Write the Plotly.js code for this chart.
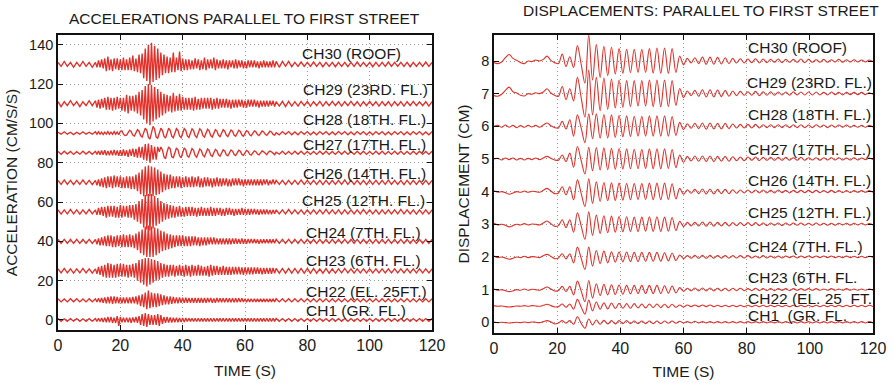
<!DOCTYPE html>
<html>
<head>
<meta charset="utf-8">
<script src="https://cdn.plot.ly/plotly-3.0.1.min.js"></script>
<style>html,body{margin:0;padding:0;background:#fff;}#chart{width:894px;height:383px;}</style>
</head>
<body>
<div id="chart"></div>
<script>
// ---------- DATA ----------
// Acceleration channels (left panel), offsets in cm/s/s
const accNames = ['CH30 (ROOF)','CH29 (23RD. FL.)','CH28 (18TH. FL.)','CH27 (17TH. FL.)','CH26 (14TH. FL.)','CH25 (12TH. FL.)','CH24 (7TH. FL.)','CH23 (6TH. FL.)','CH22 (EL. 25FT.)','CH1 (GR. FL.)'];
const accBase = [130,110,95,85,70,55,40,25,10,0];
// sample times (s): 0-12 every 1 s, 12.5-70 every 0.5 s, 71-120 every 1 s
const accTimeSegments = [[0,12,1],[12.5,70,0.5],[71,120,1]];

const acc30 = [1,-1,1.5,-1,1,-1.5,1,-1,1.5,-1,1,-1.5,1,
-1.5,2,-1.5,2.5,-2,3,-3.5,4,-3,2.5,
-3.5,3,-2.5,3,-3,2.5,-3,3.5,-3,2.5,
-3,3.5,-3,4.5,-3.5,3,-4,5,-4.5,5.5,
-7,8,-8.5,10,-10.5,11,-9,9.5,-8,8,
-7,6,-5.5,5,-4.5,4,-4.5,3.5,-4,6,
-4,3.5,-3,6.5,-3.5,3,-3,2.5,-3,2.5,
-2.5,2,-2.5,3,-2,2.5,-3,2,-2.5,3.5,
-3,2.5,-2,2.5,-2,3.5,-3,2.5,-2,2,
-2,2.5,-2,2,-2.5,2,-1.5,2,-2,2.5,
-2,2,-1.5,2,-2,1.5,-2,2,-1.5,2,
-1.5,2,-1.5,1.5,-2,1.5,-1.5,2,-1.5,1.5,
-1.5,1.5,-1.5,2,-1.5,1.5,
-1.5,1.5,-1,1.5,-1.2,1,-1,1.2,-1,1,
-1,1.2,-1,1,-1.2,1,-1,1,-1.2,1,
-1,1,-1.2,1,-1,1.2,-1,1,-1,1,
-1.2,1,-1,1,-1,1.2,-1,1,-1,1,
-1,1,-1.2,1,-1,1,-1,1.2,-1,1];

const acc29 = [1,-1.5,1,-1,1.5,-1,1,-1.5,1,-1,1.5,-1,1.5,
-2,2,-2.5,2.5,-2,3,-3,3.5,-3,3,
-3.5,3,-3,3.5,-2.5,3,-3.5,3,-4,4.5,
-5,4,-3.5,4,-4,4.5,-5,6,-6,7,
-8,9,-10,10,-11,9.5,-9,8.5,-8,7.5,
-7,6,-6,5,-5,4.5,-4,4,-4.5,5.5,
-4,4,-3.5,5,-3.5,3.5,-3,3,-3,3,
-3,3,-3.5,3.5,-3,2.5,-3,3,-2.5,3,
-2.5,3,-2.5,3,-3,2.5,-2.5,3,-2.5,2.5,
-2,2.5,-2,2.5,-2,2,-2.5,2,-2,2,
-2,2,-1.5,2,-2,1.5,-2,2,-1.5,2,
-1.5,2,-1.5,1.5,-2,1.5,-1.5,1.5,-1.5,1.5,
-1.5,1.5,-1,1.5,-1.5,1,
-1.2,1.2,-1.5,1.2,-1.2,1,-1.2,1.2,-1,1.2,
-1.2,1,-1,1.2,-1.2,1,-1,1.2,-1,1,
-1.2,1,-1,1.2,-1,1,-1.2,1,-1,1.2,
-1,1,-1.2,1,-1,1,-1.2,1,-1,1,
-1.2,1,-1,1.2,-1,1,-1,1,-1.2,1];

const acc28 = [0.5,-0.5,0.7,-0.5,0.5,-0.7,0.5,-0.5,0.7,-0.5,0.5,-0.5,0.7,
-0.5,0.7,-0.5,0.5,-0.7,0.5,-0.5,0.8,-0.6,0.5,
-0.6,0.8,-0.5,0.6,-0.8,1,1.2,-0.5,-1.2,-1,
0.5,1.5,0.8,-1,-1.5,0.3,1.8,1,-1.2,-2,
0.5,2.5,1.5,-2,-3,0.5,3.5,2,-2,-2.5,
0.5,2.5,1.5,-1.5,-2.5,0.5,2.5,1.5,-1.5,-2.3,
0.5,2.3,1.4,-1.4,-2.3,0.5,2.3,1.4,-1.4,-2.2,
0.5,2.2,1.3,-1.3,-2.2,0.5,2.2,1.3,-1.3,-2,
0.4,2,1.2,-1.2,-2,0.4,1.8,1.1,-1.1,-1.8,
0.4,1.8,1,-1,-1.7,0.4,1.6,1,-1,-1.6,
0.3,1.5,0.9,-0.9,-1.5,0.3,1.3,0.8,-0.8,-1.3,
0.3,1.2,0.7,-0.7,-1.2,0.3,1.1,0.6,-0.6,-1.1,
0.3,1,0.6,-0.6,-1,0.3,
-0.8,0.8,-0.6,0.8,-0.8,0.6,-0.8,0.8,-0.6,0.8,
-0.8,0.6,-0.8,0.8,-0.6,0.8,-0.8,0.6,-0.8,0.8,
-0.6,0.8,-0.8,0.6,-0.8,0.8,-0.6,0.8,-0.8,0.6,
-0.8,0.8,-0.6,0.8,-0.8,0.6,-0.8,0.8,-0.6,0.8,
-0.8,0.6,-0.8,0.8,-0.6,0.8,-0.8,0.6,-0.8,0.8];

const acc27 = [0.7,-0.7,0.8,-0.6,0.7,-0.8,0.6,-0.7,0.8,-0.6,0.7,-0.7,0.8,
-0.8,1,-1,1.2,-1,1.3,-1.2,1,-1.3,1.2,
-1.2,1.5,-1.3,1.2,-1.5,1.3,-1.5,1.8,-1.5,1.3,
-2,1.8,-1.5,2.2,-2,2,-2.5,3,-2.5,3,
-3.5,4.5,-4,4.7,-5,4,-3.5,3,-3.5,3,
0.5,3,1.5,-2,-3,0.5,3,2,-2,-2.5,
0.5,2.5,1.5,-1.5,-2.5,0.5,2.5,1.5,-1.5,-2.2,
0.5,2.2,1.3,-1.3,-2.2,0.5,2,1.2,-1.2,-2,
0.4,2,1.2,-1.2,-1.8,0.4,1.8,1,-1,-1.7,
0.4,1.6,1,-1,-1.5,0.4,1.5,0.9,-0.9,-1.4,
0.3,1.3,0.8,-0.8,-1.3,0.3,1.2,0.7,-0.7,-1.2,
0.3,1,0.6,-0.6,-1,0.3,1,0.5,-0.5,-1,
0.3,0.9,0.5,-0.5,-0.9,0.3,
-0.7,0.8,-0.8,0.7,-0.8,0.8,-0.7,0.8,-0.8,0.7,
-0.8,0.7,-0.8,0.8,-0.7,0.8,-0.8,0.7,-0.8,0.8,
-0.7,0.8,-0.8,0.7,-0.8,0.8,-0.7,0.8,-0.8,0.7,
-0.8,0.8,-0.7,0.8,-0.8,0.7,-0.8,0.8,-0.7,0.8,
-0.8,0.7,-0.8,0.8,-0.7,0.8,-0.8,0.7,-0.8,0.8];

const acc26 = [1,-1,1.2,-1,1,-1.2,1,-1,1.2,-1,1,-1.2,1,
-1.5,1.5,-2,2,-2.5,2.5,-3,3,-2.5,3,
-3,3.5,-2.5,3,-2.5,3,-3,2.5,-3,3,
-3,3,-3.5,3,-3.5,4,-4.5,5,-6,6.5,
-7,8,-7,8.5,-7,8,-7,7.5,-6.5,6.5,
-6,5.5,-5,4.5,-4,4,-3.5,4,-3,3,
-3,3,-2.5,3,-3,2.5,-2.5,3,-2.5,2.5,
-2.5,3,-2.5,2.5,-2,3,-2.5,2,-2.5,2.5,
-2,2.5,-2,2,-2.5,2,-2,2.5,-2,2,
-2,2,-1.5,2,-2,1.5,-2,2,-1.5,2,
-1.5,2,-1.5,1.5,-2,1.5,-1.5,1.5,-1.5,1.5,
-1.5,1.5,-1.5,1.5,-1.5,1.5,-1.5,1.5,-1,1.5,
-1.5,1,-1,1.5,-1,1,
-1,1,-1.2,1,-1,1,-1,1.2,-1,1,
-1,1,-1,1,-1.2,1,-1,1,-1,1,
-1,1.2,-1,1,-1,1,-1,1,-1.2,1,
-1,1,-1,1,-1,1.2,-1,1,-1,1,
-1.2,1,-1,1,-1,1,-1,1,-1,1];

const acc25 = [1,-1.2,1,-1,1.2,-1,1,-1.2,1,-1,1.2,-1,1,
-1.5,2,-1.5,2.5,-2,2.5,-3,3,-2.5,3,
-2.5,3,-3,2.5,-3,3.5,-3,3,-2.5,3,
-3,3.5,-3,3.5,-4,4,-5,5.5,-6,6.5,
-8,8.5,-9,9,-9.5,9,-8.5,8,-7,7,
-6,5.5,-5,4.5,-4,4,-3.5,3.5,-3,3,
-3,2.5,-2.5,3,-2.5,2,-2.5,2.5,-2,2.5,
-2,2.5,-2,2,-2.5,2,-2,2.5,-2,2,
-2,2,-2,2.5,-2,2,-2,2,-1.5,2,
-2,1.5,-2,2,-1.5,2,-1.5,1.5,-2,1.5,
-1.5,1.5,-1.5,2,-1.5,1.5,-1.5,1.5,-1.5,1.5,
-1.2,1.5,-1.2,1.2,-1.5,1.2,-1.2,1.2,-1.2,1.2,
-1.2,1,-1.2,1,-1,1,
-1,1,-1,1.2,-1,1,-1,1,-1.2,1,
-1,1,-1,1,-1,1.2,-1,1,-1,1,
-1.2,1,-1,1,-1,1,-1,1.2,-1,1,
-1,1,-1.2,1,-1,1,-1,1,-1,1.2,
-1,1,-1,1,-1.2,1,-1,1,-1,1];

const acc24 = [1,-1,1,-1,1,-1,1,-1,1,-1,1,-1,1,
-1.5,1.5,-2,2,-2,2.5,-2.5,3,-2.5,3,
-3,2.5,-3,3,-2.5,3,-3,3.5,-3,3,
-3,3.5,-3,3,-3.5,4,-4.5,5,-6,6,
-7,7.5,-8,8,-8,7.5,-8,7,-7,6.5,
-6,5.5,-5,5,-4.5,4,-4,3.5,-3.5,3,
-3,3,-2.5,3,-2.5,3,-2.5,2.5,-2.5,2.5,
-2.5,2.5,-2,2.5,-2,2,-2.5,2,-2,2,
-2,2,-1.5,2,-1.5,2,-1.5,1.5,-1.5,1.5,
-1.5,1.5,-1.5,1.5,-1.5,1.5,-1.5,1.5,-1.2,1.5,
-1.2,1.2,-1.2,1.5,-1.2,1.2,-1.2,1.2,-1,1.2,
-1,1.2,-1,1,-1.2,1,-1,1,-1,1,
-1,1,-1,1,-1,1,
-1,1,-1,1,-1,1,-1,1,-1,1,
-1,1,-1,1,-1,1,-1,1,-1,1,
-1,1,-1,1,-1,1,-1,1,-1,1,
-1,1,-1,1,-1,1,-1,1,-1,1,
-1,1,-1,1,-1,1,-1,1,-1,1];

const acc23 = [1,-1,1.2,-1,1,-1.2,1,-1,1.2,-1,1,-1.2,1,
-1.5,2,-2,2.5,-3,3,-3.5,4,-3.5,3.5,
-3.5,3,-3.5,3.5,-3,3.5,-3,3.5,-3,3,
-3.5,3,-3,3.5,-3.5,4,-5,5.5,-6,6,
-7,6.5,-8,6.5,-7,6,-6,5.5,-5,5,
-4.5,4,-3.5,3.5,-3,3,-3,3,-2.5,3,
-3,2.5,-2.5,3,-2.5,2.5,-3,3,-2.5,2.5,
-3,3,-2.5,2.5,-2.5,3,-2.5,2.5,-2.5,2,
-2.5,2.5,-3,3,-2.5,2.5,-2,2.5,-2,2,
-2,2.5,-2,2,-2,2,-2,2,-1.8,2,
-1.8,2,-1.8,1.8,-2,1.8,-1.8,1.8,-1.8,1.8,
-1.8,1.8,-1.5,1.8,-1.5,1.5,-1.8,1.5,-1.5,1.5,
-1.5,1.5,-1.5,1.5,-1.2,1.2,
-1.2,1.2,-1.2,1.2,-1.2,1.2,-1.2,1.2,-1.2,1.2,
-1.2,1.2,-1.2,1,-1.2,1.2,-1.2,1,-1.2,1,
-1,1.2,-1,1,-1.2,1,-1,1,-1,1,
-1,1,-1,1,-1,1,-1,1,-1,1,
-1,1,-1,1,-1,1,-1,1,-1,1];

const acc22 = [0.8,-0.8,0.7,-0.8,0.8,-0.7,0.8,-0.8,0.7,-0.8,0.8,-0.7,0.8,
-0.8,1,-1,1.2,-1.2,1.5,-1.5,1.8,-1.5,2,
-1.8,2,-1.5,1.8,-1.5,1.5,-1.5,1.5,-1.5,1.5,
-1.5,1.5,-1.5,1.8,-1.5,2,-2,2.5,-3,3,
-3.5,4,-4.5,5,-4,4,-3.5,3.5,-3.5,3.5,
-3,3,-2.5,2.5,-2,2,-2,2,-1.8,1.8,
-1.5,1.5,-1.5,1.5,-1.3,1.3,-1.3,1.3,-1.2,1.2,
-1.2,1.2,-1.2,1.2,-1.2,1.2,-1.2,1.2,-1.2,1.2,
-1.2,1.2,-1,1.2,-1.2,1,-1.2,1.2,-1,1,
-1,1,-1,1,-1,1,-1,1,-1,1,
-1,1,-0.8,1,-0.8,0.8,-1,0.8,-0.8,0.8,
-0.8,0.8,-0.8,0.8,-0.8,0.8,-0.8,0.8,-0.8,0.8,
-0.8,0.8,-0.8,0.8,-0.8,0.8,
-0.8,0.8,-0.8,0.8,-0.8,0.8,-0.8,0.8,-0.8,0.8,
-0.8,0.8,-0.8,0.8,-0.8,0.8,-0.8,0.8,-0.8,0.8,
-0.8,0.8,-0.8,0.8,-0.8,0.8,-0.8,0.8,-0.8,0.8,
-0.8,0.8,-0.8,0.8,-0.8,0.8,-0.8,0.8,-0.8,0.8,
-0.8,0.8,-0.8,0.8,-0.8,0.8,-0.8,0.8,-0.8,0.8];

const acc1 = [0.7,-0.7,0.6,-0.7,0.7,-0.6,0.7,-0.7,0.6,-0.7,0.7,-0.6,0.7,
-0.7,0.8,-0.8,1,-1,1.2,-1.2,1.5,-1.2,1.5,
-1.5,1.2,-1.5,2,-3,1.5,-1.2,1.2,-1.2,1.2,
-1.2,1.2,-1.5,1.3,-1.2,1.5,-1.5,2,-2.5,3,
-3,3.5,-3.5,3,-2.5,2.5,-2.5,2.5,-2.5,3,
-3,2.5,-2,1.5,-1.5,1.5,-1.3,1.3,-1.3,1.2,
-1.2,1.2,-1.2,1,-1,1,-1,1,-0.8,0.8,
-0.8,0.8,-0.8,0.8,-0.8,0.8,-0.8,0.8,-0.8,0.8,
-0.8,0.8,-0.8,0.8,-0.8,0.8,-0.8,0.8,-0.8,0.8,
-0.8,0.8,-0.8,0.8,-0.8,0.8,-0.8,0.8,-0.8,0.8,
-0.8,0.8,-0.8,0.8,-0.8,0.8,-0.8,0.8,-0.8,0.8,
-0.8,0.8,-0.8,0.8,-0.8,0.8,-0.8,0.8,-0.8,0.8,
-0.8,0.8,-0.8,0.8,-0.8,0.8,
-0.7,0.7,-0.7,0.7,-0.7,0.7,-0.7,0.7,-0.7,0.7,
-0.7,0.7,-0.7,0.7,-0.7,0.7,-0.7,0.7,-0.7,0.7,
-0.7,0.7,-0.7,0.7,-0.7,0.7,-0.7,0.7,-0.7,0.7,
-0.7,0.7,-0.7,0.7,-0.7,0.7,-0.7,0.7,-0.7,0.7,
-0.7,0.7,-0.7,0.7,-0.7,0.7,-0.7,0.7,-0.7,0.7];

// Displacement channels (right panel), offsets in cm
const dispNames = ['CH30 (ROOF)','CH29 (23RD. FL.)','CH28 (18TH. FL.)','CH27 (17TH. FL.)','CH26 (14TH. FL.)','CH25 (12TH. FL.)','CH24 (7TH. FL.)','CH23 (6TH. FL.','CH22 (EL. 25\u00a0\u00a0FT.','CH1\u00a0\u00a0(GR. FL.'];
const dispBase = [8,7,6,5,4,3,2,1,0.5,0];
const dispStep = 1.2; // s between samples (peaks/troughs)

const d30 = [-0.05,-0.08,-0.03,0.10,0.20,0.08,0.02,-0.05,-0.08,0.00,-0.02,0.03,0.00,0.05,0.15,0.02,-0.05,
-0.08,0.21,-0.17,0.13,-0.20,0.47,-0.10,-0.68,
0.80,-0.58,0.50,-0.50,0.45,-0.45,0.42,-0.40,0.38,-0.38,0.36,-0.36,0.36,-0.35,0.36,-0.35,
0.38,-0.37,0.40,-0.38,0.40,-0.38,0.38,-0.35,
0.15,-0.12,0.08,-0.06,0.10,-0.08,0.12,-0.10,0.12,-0.10,0.11,-0.09,0.10,-0.08,
0.08,-0.06,0.07,-0.06,0.06,-0.05,0.07,-0.06,0.06,-0.05,0.05,-0.04,0.06,-0.05,0.05,-0.04,0.05,-0.04,0.06,-0.05,
0.05,-0.04,0.04,-0.04,0.05,-0.04,0.04,-0.03,0.05,-0.04,0.04,-0.03,0.04,-0.03,0.03,-0.03,0.03,-0.02];

const d29 = [-0.06,-0.08,-0.02,0.10,0.20,0.06,0.02,-0.05,-0.07,0.00,-0.02,0.03,0.00,0.05,0.15,0.02,-0.05,
-0.08,0.22,-0.18,0.15,-0.22,0.50,-0.12,-0.72,
0.72,-0.65,0.50,-0.52,0.48,-0.48,0.45,-0.44,0.42,-0.42,0.40,-0.40,0.40,-0.38,0.40,-0.38,
0.42,-0.40,0.42,-0.40,0.42,-0.40,0.40,-0.36,
0.16,-0.12,0.08,-0.06,0.10,-0.08,0.12,-0.10,0.12,-0.10,0.11,-0.09,0.10,-0.08,
0.08,-0.06,0.07,-0.05,0.06,-0.05,0.07,-0.06,0.06,-0.05,0.06,-0.05,0.05,-0.04,0.05,-0.05,0.06,-0.04,0.05,-0.04,
0.05,-0.04,0.05,-0.04,0.04,-0.04,0.05,-0.03,0.04,-0.04,0.04,-0.03,0.04,-0.03,0.04,-0.03,0.03,-0.02];

const d28 = [0.00,0.03,-0.03,0.04,-0.03,0.03,-0.04,0.02,-0.03,0.03,-0.02,0.03,-0.03,0.04,0.10,0.02,-0.04,
-0.05,0.15,-0.08,0.20,-0.30,0.35,-0.05,-0.50,
0.38,-0.38,0.38,-0.36,0.36,-0.36,0.35,-0.34,0.33,-0.32,0.32,-0.31,0.31,-0.30,0.31,-0.30,
0.32,-0.30,0.32,-0.30,0.32,-0.30,0.30,-0.28,
0.12,-0.10,0.08,-0.06,0.09,-0.07,0.10,-0.09,0.10,-0.08,0.09,-0.08,0.09,-0.07,
0.07,-0.05,0.06,-0.05,0.06,-0.05,0.06,-0.05,0.05,-0.04,0.05,-0.04,0.05,-0.04,0.05,-0.04,0.05,-0.04,0.05,-0.04,
0.04,-0.04,0.05,-0.03,0.04,-0.04,0.04,-0.03,0.04,-0.03,0.04,-0.03,0.03,-0.03,0.03,-0.03,0.03,-0.02];

const d27 = [0.00,0.02,-0.03,0.03,-0.02,0.03,-0.03,0.02,-0.03,0.02,-0.02,0.03,-0.02,0.03,0.08,0.02,-0.03,
-0.04,0.12,-0.08,0.18,-0.25,0.38,-0.05,-0.46,
0.36,-0.36,0.35,-0.34,0.34,-0.33,0.33,-0.32,0.32,-0.31,0.31,-0.30,0.30,-0.30,0.30,-0.29,
0.31,-0.30,0.31,-0.30,0.31,-0.29,0.29,-0.27,
0.12,-0.10,0.08,-0.06,0.09,-0.07,0.09,-0.08,0.09,-0.08,0.08,-0.07,0.08,-0.07,
0.07,-0.05,0.06,-0.05,0.06,-0.04,0.06,-0.05,0.05,-0.04,0.05,-0.04,0.05,-0.04,0.05,-0.04,0.04,-0.04,0.05,-0.04,
0.04,-0.03,0.04,-0.04,0.04,-0.03,0.04,-0.03,0.04,-0.03,0.03,-0.03,0.04,-0.03,0.03,-0.02,0.03,-0.02];

const d26 = [0.03,-0.02,0.00,-0.03,-0.08,-0.04,0.00,-0.02,0.02,-0.02,0.01,0.00,-0.02,0.04,0.10,0.02,-0.06,
-0.04,0.15,-0.10,0.15,-0.25,0.36,-0.05,-0.46,
0.39,-0.36,0.30,-0.30,0.28,-0.28,0.27,-0.27,0.26,-0.26,0.25,-0.25,0.25,-0.24,0.25,-0.24,
0.26,-0.25,0.26,-0.25,0.26,-0.24,0.24,-0.22,
0.10,-0.08,0.06,-0.05,0.07,-0.06,0.08,-0.07,0.08,-0.07,0.07,-0.06,0.07,-0.06,
0.06,-0.05,0.05,-0.04,0.05,-0.04,0.05,-0.04,0.05,-0.04,0.04,-0.04,0.05,-0.03,0.04,-0.04,0.04,-0.03,0.04,-0.03,
0.04,-0.03,0.04,-0.03,0.03,-0.03,0.04,-0.03,0.03,-0.03,0.03,-0.03,0.03,-0.02,0.03,-0.02,0.03,-0.02];

const d25 = [0.03,-0.02,0.00,-0.03,-0.08,-0.04,0.00,-0.02,0.02,-0.02,0.01,0.00,-0.02,0.04,0.10,0.02,-0.06,
-0.04,0.14,-0.10,0.14,-0.24,0.35,-0.05,-0.46,
0.38,-0.34,0.28,-0.28,0.26,-0.26,0.25,-0.24,0.24,-0.23,0.23,-0.22,0.22,-0.22,0.22,-0.21,
0.23,-0.22,0.23,-0.22,0.22,-0.21,0.21,-0.19,
0.09,-0.07,0.06,-0.05,0.06,-0.05,0.07,-0.06,0.07,-0.06,0.06,-0.05,0.06,-0.05,
0.05,-0.04,0.05,-0.04,0.05,-0.04,0.05,-0.04,0.04,-0.04,0.04,-0.03,0.04,-0.04,0.04,-0.03,0.04,-0.03,0.04,-0.03,
0.03,-0.03,0.04,-0.03,0.03,-0.03,0.03,-0.03,0.03,-0.02,0.03,-0.03,0.03,-0.02,0.03,-0.02,0.02,-0.02];

const d24 = [0.03,-0.02,0.00,-0.03,-0.07,-0.04,0.00,-0.02,0.02,-0.02,0.01,0.00,-0.02,0.04,0.08,0.02,-0.05,
-0.03,0.10,-0.06,0.10,-0.18,0.30,-0.04,-0.38,
0.30,-0.28,0.20,-0.20,0.18,-0.18,0.16,-0.16,0.15,-0.15,0.15,-0.14,0.14,-0.14,0.14,-0.13,
0.14,-0.13,0.14,-0.13,0.13,-0.12,0.12,-0.11,
0.06,-0.05,0.04,-0.04,0.05,-0.04,0.05,-0.04,0.05,-0.04,0.04,-0.04,0.04,-0.04,
0.04,-0.03,0.04,-0.03,0.04,-0.03,0.03,-0.03,0.04,-0.03,0.03,-0.03,0.03,-0.03,0.03,-0.02,0.03,-0.03,0.03,-0.02,
0.03,-0.02,0.03,-0.02,0.03,-0.02,0.03,-0.02,0.02,-0.02,0.03,-0.02,0.02,-0.02,0.02,-0.02,0.02,-0.02];

const d23 = [0.02,-0.02,0.00,-0.03,-0.06,-0.04,0.00,-0.02,0.02,-0.02,0.01,0.00,-0.02,0.03,0.08,0.02,-0.04,
-0.03,0.10,-0.06,0.10,-0.16,0.26,-0.04,-0.37,
0.28,-0.26,0.18,-0.18,0.16,-0.16,0.15,-0.15,0.14,-0.14,0.13,-0.13,0.13,-0.12,0.13,-0.12,
0.13,-0.12,0.13,-0.12,0.12,-0.11,0.11,-0.10,
0.06,-0.05,0.04,-0.04,0.05,-0.04,0.05,-0.04,0.05,-0.04,0.04,-0.04,0.04,-0.04,
0.04,-0.03,0.04,-0.03,0.03,-0.03,0.04,-0.03,0.03,-0.03,0.03,-0.03,0.03,-0.02,0.03,-0.03,0.03,-0.02,0.03,-0.02,
0.03,-0.02,0.03,-0.02,0.02,-0.02,0.03,-0.02,0.02,-0.02,0.03,-0.02,0.02,-0.02,0.02,-0.02,0.02,-0.02];

const d22 = [0.01,-0.01,0.00,-0.02,-0.03,-0.02,0.00,-0.01,0.01,-0.01,0.01,0.00,-0.01,0.02,0.05,0.01,-0.03,
-0.02,0.06,-0.04,0.06,-0.10,0.20,-0.03,-0.25,
0.18,-0.15,0.12,-0.10,0.10,-0.09,0.09,-0.08,0.08,-0.07,0.07,-0.07,0.07,-0.06,0.06,-0.06,
0.06,-0.05,0.06,-0.05,0.05,-0.05,0.05,-0.04,
0.03,-0.03,0.03,-0.02,0.03,-0.02,0.03,-0.02,0.03,-0.02,0.02,-0.02,0.02,-0.02,
0.02,-0.02,0.02,-0.02,0.02,-0.02,0.02,-0.02,0.02,-0.02,0.02,-0.02,0.02,-0.02,0.02,-0.02,0.02,-0.02,0.02,-0.02,
0.02,-0.02,0.02,-0.02,0.02,-0.02,0.02,-0.02,0.02,-0.02,0.02,-0.02,0.02,-0.02,0.02,-0.02,0.02,-0.02];

const d1 = [0.01,-0.01,0.00,-0.01,-0.02,-0.01,0.00,-0.01,0.01,-0.01,0.01,0.00,-0.01,0.02,0.05,0.01,-0.05,
-0.02,0.05,-0.03,0.05,-0.06,0.17,-0.03,-0.18,
0.10,-0.08,0.07,-0.06,0.06,-0.05,0.05,-0.05,0.05,-0.04,0.05,-0.04,0.04,-0.04,0.04,-0.04,
0.04,-0.04,0.04,-0.04,0.04,-0.03,0.04,-0.03,
0.03,-0.02,0.02,-0.02,0.03,-0.02,0.02,-0.02,0.02,-0.02,0.02,-0.02,0.02,-0.02,
0.02,-0.02,0.02,-0.02,0.02,-0.02,0.02,-0.02,0.02,-0.02,0.02,-0.02,0.02,-0.02,0.02,-0.02,0.02,-0.02,0.02,-0.02,
0.02,-0.02,0.02,-0.02,0.02,-0.02,0.02,-0.02,0.02,-0.02,0.02,-0.02,0.02,-0.02,0.02,-0.02,0.02,-0.02];

const accSeries = [acc30,acc29,acc28,acc27,acc26,acc25,acc24,acc23,acc22,acc1];
const dispSeries = [d30,d29,d28,d27,d26,d25,d24,d23,d22,d1];
const xTicks = [0,20,40,60,80,100,120];
const accTicks = [0,20,40,60,80,100,120,140];
const dispTicks = [0,1,2,3,4,5,6,7,8];

// ---------- BUILD ----------
function timeGrid(segs){const t=[];for(const [a,b,s] of segs){for(let i=0;a+i*s<=b+1e-9;i++)t.push(+(a+i*s).toFixed(3));}return t;}
const tAcc = timeGrid(accTimeSegments);
const RED = '#e2302a';
const traces = [];
accSeries.forEach((s,i)=>{
  traces.push({x:tAcc.slice(0,s.length), y:s.map(v=>v+accBase[i]), xaxis:'x', yaxis:'y', mode:'lines', line:{color:RED,width:1.35}, hoverinfo:'skip', name:accNames[i]});
});
dispSeries.forEach((s,i)=>{
  traces.push({x:s.map((v,k)=>+(k*dispStep).toFixed(3)), y:s.map(v=>v+dispBase[i]), xaxis:'x2', yaxis:'y2', mode:'lines', line:{color:RED,width:1.1,shape:'spline',smoothing:1}, hoverinfo:'skip', name:dispNames[i]});
});

const FONT = 'Liberation Sans, Arial, Helvetica, sans-serif';
const TXT = '#1a1a1a';
const accLabelX = [77.6,78,78,78,78,77.6,78.9,78.9,78.9,78.9];
const accLabelY = [135.7,117.4,102.2,89.5,74.7,61,44.7,30.5,14.7,4.6];
const dispLabelX = [79.8,79.5,79.8,79.8,79.8,79.8,79.8,79.8,79.8,79.8];
const dispLabelY = [8.41,7.33,6.35,5.30,4.33,3.35,2.31,1.38,0.73,0.22];

const ann = [];
accNames.forEach((n,i)=>ann.push({xref:'x',yref:'y',x:accLabelX[i],y:accLabelY[i],text:n,showarrow:false,xanchor:'left',yanchor:'middle',font:{family:FONT,size:15.5,color:TXT}}));
dispNames.forEach((n,i)=>ann.push({xref:'x2',yref:'y2',x:dispLabelX[i],y:dispLabelY[i],text:n,showarrow:false,xanchor:'left',yanchor:'middle',font:{family:FONT,size:15.5,color:TXT}}));
ann.push({xref:'paper',yref:'paper',x:245/894,y:1-18/383,text:'ACCELERATIONS PARALLEL TO FIRST STREET',showarrow:false,xanchor:'center',yanchor:'middle',font:{family:FONT,size:15.5,color:TXT}});
ann.push({xref:'paper',yref:'paper',x:701/894,y:1-10/383,text:'DISPLACEMENTS: PARALLEL TO FIRST STREET',showarrow:false,xanchor:'center',yanchor:'middle',font:{family:FONT,size:15.5,color:TXT}});

const axisCommon = {showline:true, mirror:'allticks', linecolor:'#111', linewidth:1.8, ticks:'inside', ticklen:5, tickcolor:'#111', showgrid:true, gridcolor:'#9a9a9a', griddash:'1px,3px', gridwidth:1, zeroline:false, fixedrange:true};

const layout = {
  width:894, height:383, margin:{l:0,r:0,t:0,b:0}, paper_bgcolor:'#fff', plot_bgcolor:'#fff', showlegend:false,
  font:{family:FONT, size:15, color:TXT},
  xaxis:Object.assign({}, axisCommon, {domain:[58/894,432/894], anchor:'y', range:[0,120], tickvals:xTicks, tickfont:{size:16}, title:{text:'TIME (S)', standoff:12, font:{size:15.5}}}),
  yaxis:Object.assign({}, axisCommon, {domain:[53/383,348/383], anchor:'x', range:[-5.09,144.93], tickvals:accTicks, tickfont:{size:14.5}, title:{text:'ACCELERATION (CM/S/S)', standoff:8, font:{size:15.5}}}),
  xaxis2:Object.assign({}, axisCommon, {domain:[494/894,873/894], anchor:'y2', range:[0,120], tickvals:xTicks, tickfont:{size:16}, title:{text:'TIME (S)', standoff:10, font:{size:15.5}}}),
  yaxis2:Object.assign({}, axisCommon, {domain:[50/383,348/383], anchor:'x2', range:[-0.328,8.796], tickvals:dispTicks, tickfont:{size:14.5}, title:{text:'DISPLACEMENT (CM)', standoff:8, font:{size:15.5}}}),
  annotations:ann
};
Plotly.newPlot('chart', traces, layout, {staticPlot:true, displayModeBar:false});
</script>
</body>
</html>
